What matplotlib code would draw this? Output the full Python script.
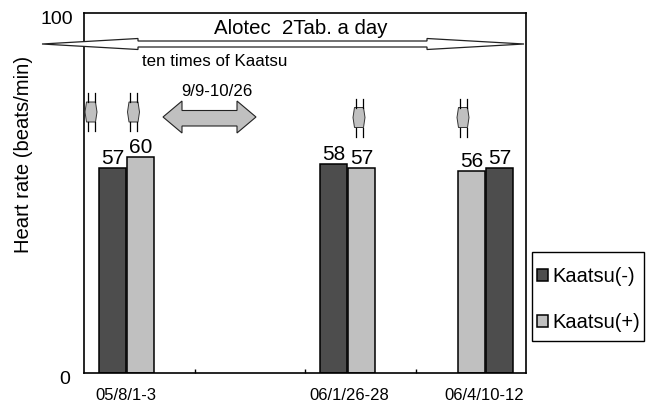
import matplotlib
matplotlib.use('Agg')
import matplotlib.pyplot as plt
from matplotlib.patches import Polygon, Rectangle
from matplotlib.transforms import ScaledTranslation

plt.rcParams['font.family'] = ['Liberation Sans', 'DejaVu Sans']

dates = ['05/8/1-3', '06/1/26-28', '06/4/10-12']
kaatsu_minus = [57, 58, 57]
kaatsu_plus = [60, 57, 56]
minus_pos = [0.258, 2.258, 3.76]
plus_pos = [0.511, 2.511, 3.507]
cuff_x = [91, 133.5, 359, 463]
cuff_y = [112, 112, 117.5, 117.5]

DARK = '#4d4d4d'
LIGHT = '#c0c0c0'
W, H = 657, 403

fig = plt.figure(figsize=(W / 100, H / 100), dpi=100)
ax = fig.add_axes([84 / W, 1 - 373 / H, 442 / W, 360 / H])
b1 = ax.bar(minus_pos, kaatsu_minus, 0.25, color=DARK, edgecolor='black', linewidth=1.1, label='Kaatsu(-)')
b2 = ax.bar(plus_pos, kaatsu_plus, 0.25, color=LIGHT, edgecolor='black', linewidth=1.1, label='Kaatsu(+)')
ax.bar_label(b1, fontsize=15, padding=0)
ax.bar_label(b2, fontsize=15, padding=0)

ax.set_xlim(0, 4)
ax.set_ylim(0, 100)
ax.set_yticks([0, 100])
ax.set_xticks([1, 2, 3])
ax.set_xticklabels([])
ax.tick_params(axis='x', direction='in', length=3, width=1)
ax.tick_params(axis='y', length=0, labelsize=14, pad=8)
ax.set_ylabel('Heart rate (beats/min)', fontsize=14.6)
ax.yaxis.set_label_coords(-0.115, 0.608)
for s in ax.spines.values():
    s.set_linewidth(1.2)

# y labels sit a bit lower than the ticks in the original
for lab, dx in zip(ax.get_yticklabels(), [-3, 0]):
    lab.set_transform(lab.get_transform() + ScaledTranslation(dx / 100, -4 / 100, fig.dpi_scale_trans))

leg = ax.legend(loc='upper left', bbox_to_anchor=(537 / W, 1 - 267 / H), bbox_transform=fig.transFigure,
                fontsize=14.5, frameon=False, handlelength=0.55, handleheight=0.55, handletextpad=0.2,
                labelspacing=1.35, borderpad=0, borderaxespad=0)

# overlay in pixel coords for the annotations
ov = fig.add_axes([0, 0, 1, 1], zorder=5)
ov.set_xlim(0, W)
ov.set_ylim(H, 0)
ov.axis('off')

ov.add_patch(Rectangle((532, 252), 112, 89, facecolor='none', edgecolor='black', linewidth=1))

ov.add_patch(Polygon([(42, 44), (138, 38.5), (138, 41), (427, 41), (427, 38.5), (524, 44),
                      (427, 49.5), (427, 47), (138, 47), (138, 49.5)],
                     facecolor='white', edgecolor='#222222', linewidth=0.9))
ov.add_patch(Polygon([(163, 117), (182, 101), (182, 110.5), (237, 110.5), (237, 101), (256, 117),
                      (237, 133), (237, 126), (182, 126), (182, 133)],
                     facecolor=LIGHT, edgecolor='#222222', linewidth=0.8))

for cx, cy in zip(cuff_x, cuff_y):
    ov.add_patch(Polygon([(cx - 4.5, cy - 10), (cx + 4.5, cy - 10), (cx + 6, cy), (cx + 4.5, cy + 10),
                          (cx - 4.5, cy + 10), (cx - 6, cy)],
                         facecolor=LIGHT, edgecolor='#333333', linewidth=0.7))
    for dx in (-3.5, 3.5):
        ov.plot([cx + dx, cx + dx], [cy - 19, cy - 10], color='black', lw=0.9)
        ov.plot([cx + dx, cx + dx], [cy + 10, cy + 19], color='black', lw=0.9)

ov.text(300.5, 28, 'Alotec  2Tab. a day', ha='center', va='center', fontsize=14.7)
ov.text(215, 61, 'ten times of Kaatsu', ha='center', va='center', fontsize=12.2)
ov.text(217, 92, '9/9-10/26', ha='center', va='center', fontsize=12.2)
for lab, x in zip(dates, [126, 349, 484]):
    ov.text(x, 395, lab, ha='center', va='center', fontsize=12)

fig.savefig('out.png', dpi=100)
